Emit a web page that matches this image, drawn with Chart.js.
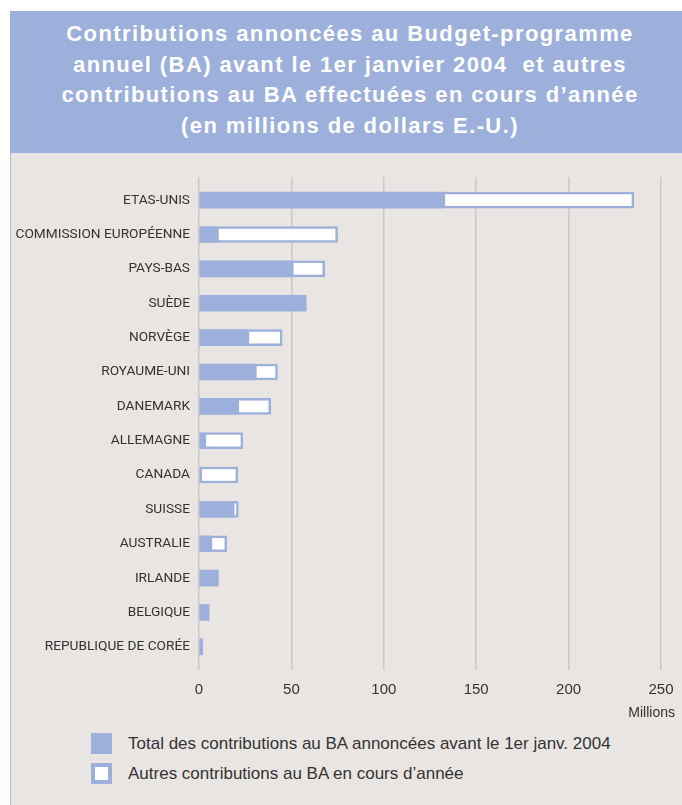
<!DOCTYPE html>
<html>
<head>
<meta charset="utf-8">
<script src="https://cdn.jsdelivr.net/npm/chart.js@4/dist/chart.umd.min.js"></script>
<style>
  body { margin: 0; background: #fff; width: 682px; height: 805px; position: relative; overflow: hidden; }
  #frame { position: absolute; left: 10px; top: 11px; width: 672px; height: 794px; background: #e9e5e2; border-left: 1.5px solid #a9bbe0; box-sizing: border-box; }
  #banner { position: absolute; left: 10px; top: 11px; width: 672px; height: 142px; background: #9db0db; box-sizing: border-box; padding: 8px 0 0 8px;
    color: #fff; font: bold 22px "Liberation Sans", Arial, sans-serif; letter-spacing: 1.4px; line-height: 30.5px; text-align: center; }
  #wrap { position: absolute; left: 0; top: 153px; width: 682px; height: 560px; }
  #unit { position: absolute; right: 7px; top: 704px; font: 14px "Liberation Sans", Arial, sans-serif; color: #333; }
  #legend { position: absolute; left: 91px; top: 733px; font: 17px "Liberation Sans", Arial, sans-serif; color: #333; }
  .item { display: flex; align-items: center; height: 21px; margin-bottom: 9px; }
  .box { width: 21px; height: 21px; box-sizing: border-box; margin-right: 16px; }
</style>
</head>
<body>
<div id="frame"></div>
<div id="banner">Contributions annoncées au Budget-programme<br>annuel (BA) avant le 1er janvier 2004&nbsp; et autres<br>contributions au BA effectuées en cours d’année<br>(en millions de dollars E.-U.)</div>
<div id="wrap"><canvas id="CONTRIB"></canvas></div>
<div id="unit">Millions</div>
<div id="legend"></div>
<script>
const countries = ['ETAS-UNIS', 'COMMISSION EUROPÉENNE', 'PAYS-BAS', 'SUÈDE', 'NORVÈGE', 'ROYAUME-UNI', 'DANEMARK',
  'ALLEMAGNE', 'CANADA', 'SUISSE', 'AUSTRALIE', 'IRLANDE', 'BELGIQUE', 'REPUBLIQUE DE CORÉE'];
// annonces avant le 1er janvier 2004
const announced = [132, 9.5, 50, 58, 26, 30, 20.5, 2.7, 0, 18, 6, 10.5, 5.5, 2];
// autres contributions en cours d'année
const other = [103.3, 65.5, 18, 0, 19, 12.5, 18.3, 21, 21, 3.3, 9, 0, 0, 0];
const xTicks = [0, 50, 100, 150, 200, 250];

const legendLabels = ['Total des contributions au BA annoncées avant le 1er janv. 2004',
  'Autres contributions au BA en cours d’année'];

const blue = '#9db0db';
const gridColor = '#cdc7c3';

const ctx = document.getElementById('CONTRIB');

const contrib_chart = new Chart(ctx, {
  type: 'bar',
  data: {
    labels: countries,
    datasets: [{
      label: legendLabels[0],
      data: announced,
      backgroundColor: blue,
      borderWidth: 0,
      barThickness: 16
    }, {
      label: legendLabels[1],
      data: other,
      backgroundColor: '#ffffff',
      borderColor: blue,
      borderWidth: 2.5,
      borderSkipped: false,
      barThickness: 16
    }]
  },
  options: {
    indexAxis: 'y',
    responsive: true,
    maintainAspectRatio: false,
    animation: false,
    layout: { padding: { top: 24, right: 21, left: 0, bottom: 0 } },
    scales: {
      x: {
        stacked: true,
        min: 0,
        max: 250,
        afterBuildTicks: (s) => { s.ticks = xTicks.map(v => ({ value: v })); },
        grid: { color: gridColor, lineWidth: 1.5, tickLength: 6 },
        border: { display: false },
        ticks: { color: '#333', font: { family: 'Liberation Sans', size: 15, lineHeight: 2.1 }, padding: 4 },
        afterFit: (s) => { s.height = 49; }
      },
      x2: {
        type: 'linear',
        position: 'top',
        min: 0,
        max: 250,
        afterBuildTicks: (s) => { s.ticks = xTicks.map(v => ({ value: v })); },
        grid: { color: gridColor, lineWidth: 1.5, tickLength: 6, drawOnChartArea: false },
        border: { display: false },
        ticks: { display: false },
        afterFit: (s) => { s.height = 6; }
      },
      y: {
        stacked: true,
        grid: { display: false, drawTicks: false },
        border: { display: false },
        ticks: { color: '#333', font: { family: 'Roboto', size: 13.7 }, padding: 9 },
        afterFit: (s) => { s.width = 199; }
      }
    },
    plugins: {
      legend: { display: false },
      tooltip: { enabled: false }
    }
  }
});

// legende a la main (liste verticale)
const leg = document.getElementById('legend');
contrib_chart.data.datasets.forEach(ds => {
  const item = document.createElement('div');
  item.className = 'item';
  const box = document.createElement('span');
  box.className = 'box';
  box.style.background = ds.backgroundColor;
  if (ds.borderWidth) box.style.border = '4px solid ' + ds.borderColor;
  const txt = document.createElement('span');
  txt.textContent = ds.label;
  item.appendChild(box);
  item.appendChild(txt);
  leg.appendChild(item);
});
</script>
</body>
</html>
